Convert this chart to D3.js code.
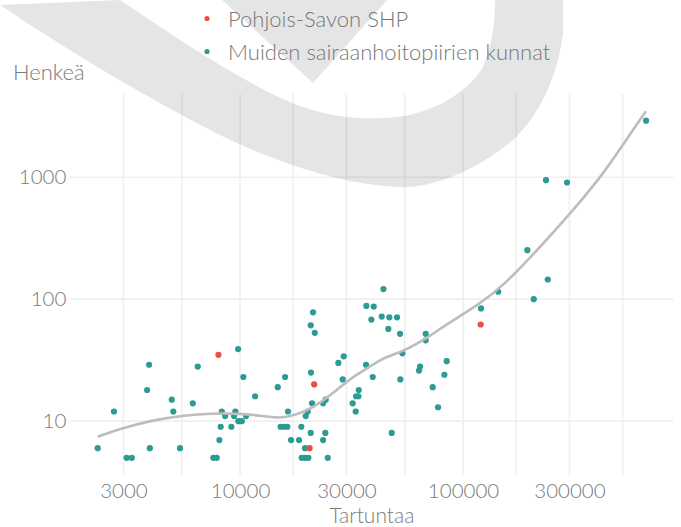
<!DOCTYPE html>
<html>
<head>
<meta charset="utf-8">
<script src="https://d3js.org/d3.v7.min.js"></script>
<style>
  body { margin: 0; background: #fff; }
  svg { display: block; font-family: Lato, "Open Sans", sans-serif; font-weight: 300; }
</style>
</head>
<body>
<svg width="681" height="527"></svg>
<script>
// Pohjois-Savon SHP (tartuntaa, henkeä)
var savoX = [8000, 20500, 21500, 120000];
var savoY = [35, 6, 20, 62];

// Muiden sairaanhoitopiirien kunnat
var muutX = [2300, 2720, 3100, 3270, 3910, 3830, 3940, 4940, 5020, 5380,
             6460, 6140, 9800, 10350, 11680, 8280, 9530, 8570, 9400, 10640,
             9830, 10180, 8190, 9140, 8080, 7590, 7860, 14760, 15920, 16410,
             15200, 15700, 16300, 16930, 18390, 18830, 19560, 18900, 19560, 20250,
             20750, 19700, 20120, 21030, 20800, 20750, 21250, 21630, 23570, 24230,
             24130, 23570, 24740, 27600, 29180, 28870, 36730, 39360, 34070, 33150,
             33940, 32000, 33020, 36850, 39770, 38810, 43200, 43950, 46720, 50580,
             46240, 52170, 68030, 68000, 53460, 52340, 47890, 64170, 63490, 84470,
             82470, 73120, 77260, 120400, 143900, 194200, 239900, 207500, 235600, 292700,
             662000];
var muutY = [6, 12, 5, 5, 29, 18, 6, 15, 12, 6,
             28, 14, 39, 23, 16, 12, 12, 11, 11, 11,
             10, 10, 9, 9, 7, 5, 5, 19, 23, 12,
             9, 9, 9, 7, 7, 9, 6, 5, 5, 5,
             8, 11, 12, 14, 25, 61, 78, 53, 14, 15,
             8, 7, 5, 30, 34, 22, 29, 23, 18, 16,
             16, 14, 12, 88, 87, 68, 72, 121, 71, 71,
             57, 52, 52, 46, 36, 22, 8, 28, 26, 31,
             24, 19, 13, 84, 115, 252, 145, 100, 946, 905,
             2904];

// tasoitettu käyrä (luettu kuvasta)
var smoothX = [2300, 2846, 4019, 5666, 7466, 9826, 12947, 14350, 16470, 19560,
               23250, 27600, 32800, 38960, 44700, 53990, 68710, 84470, 119200, 151600,
               214000, 301800, 425700, 542000, 662000];
var smoothY = [7.45, 8.56, 10.19, 11.19, 11.56, 11.56, 10.98, 10.64, 10.84, 11.91,
               14.38, 18.49, 23.74, 28.6, 33.5, 37.3, 47.8, 62.3, 92, 128.9,
               249, 500, 1060, 2060, 3480];

var xTicks = [3000, 10000, 30000, 100000, 300000];
var yTicks = [10, 100, 1000];
var legendLabels = ["Pohjois-Savon SHP", "Muiden sairaanhoitopiirien kunnat"];
var colors = ["#ee4d45", "#2b9b93"];

var svg = d3.select("svg");

// log-akselit, 5 % laajennus kuten ggplotissa
function expandLog(ext) {
    var a = Math.log10(ext[0]), b = Math.log10(ext[1]), e = (b - a) * 0.05;
    return [Math.pow(10, a - e), Math.pow(10, b + e)];
}
var x = d3.scaleLog()
    .domain(expandLog(d3.extent(savoX.concat(muutX, smoothX))))
    .range([70.3, 673.5]);
var y = d3.scaleLog()
    .domain(expandLog(d3.extent(savoY.concat(muutY, smoothY))))
    .range([475.2, 93.8]);

// ruudukko
var minorX = [];
for (var i = 0; i <= xTicks.length; i++) {
    var lo = i == 0 ? xTicks[0] / (xTicks[1] / xTicks[0]) : xTicks[i - 1];
    var hi = i == xTicks.length ? xTicks[i - 1] * (xTicks[i - 1] / xTicks[i - 2]) : xTicks[i];
    var m = Math.sqrt(lo * hi);
    if (m > x.domain()[0] && m < x.domain()[1]) minorX.push(m);
}
var grid = svg.append("g").attr("stroke", "#efefef").attr("stroke-width", 1.6);
grid.selectAll(".vx")
    .data(xTicks.concat(minorX))
    .enter().append("line")
    .attr("x1", function(d) { return x(d); })
    .attr("x2", function(d) { return x(d); })
    .attr("y1", y.range()[0])
    .attr("y2", y.range()[1]);
grid.selectAll(".hy")
    .data(yTicks)
    .enter().append("line")
    .attr("x1", x.range()[0])
    .attr("x2", x.range()[1])
    .attr("y1", function(d) { return y(d); })
    .attr("y2", function(d) { return y(d); });

// taustan vesileima
var wm = svg.append("g").attr("fill", "#000").attr("fill-opacity", 0.1);
wm.append("path")
  .attr("d", "M0,5 C70,52 150,100 230,140 C280,163 340,184 397,187 C430,189 475,172 513,140 " +
             "C540,115 558,75 563,33 L563,0 L495,0 C495,25 492,45 483,67 C470,90 435,113 397,117 " +
             "C365,120 340,118 313,110 C260,95 180,40 120,0 Z");
wm.append("path").attr("d", "M222,0 L313,83 L387,0 Z");

// akselit
var xAxis = svg.append("g")
    .attr("transform", "translate(0," + y.range()[0] + ")")
    .call(d3.axisBottom(x).tickValues(xTicks).tickFormat(d3.format("d")).tickSize(0).tickPadding(8));
var yAxis = svg.append("g")
    .attr("transform", "translate(" + x.range()[0] + ",0)")
    .call(d3.axisLeft(y).tickValues(yTicks).tickFormat(d3.format("d")).tickSize(0).tickPadding(4));
svg.selectAll(".domain").remove();
svg.selectAll(".tick text")
   .attr("fill", "#7a7a7a")
   .style("font-family", "Lato, sans-serif")
   .style("font-weight", 300)
   .style("font-size", "20.5px");

// pisteet
var pts = svg.append("g");
pts.selectAll(".muut")
   .data(d3.zip(muutX, muutY))
   .enter().append("circle")
   .attr("cx", function(d) { return x(d[0]); })
   .attr("cy", function(d) { return y(d[1]); })
   .attr("r", 3.1)
   .attr("fill", colors[1]);
pts.selectAll(".savo")
   .data(d3.zip(savoX, savoY))
   .enter().append("circle")
   .attr("cx", function(d) { return x(d[0]); })
   .attr("cy", function(d) { return y(d[1]); })
   .attr("r", 3.1)
   .attr("fill", colors[0]);

// tasoitus
var line = d3.line()
    .x(function(d) { return x(d[0]); })
    .y(function(d) { return y(d[1]); })
    .curve(d3.curveBasis);
svg.append("path")
   .datum(d3.zip(smoothX, smoothY))
   .attr("d", line)
   .attr("fill", "none")
   .attr("stroke", "#bdbdbd")
   .attr("stroke-width", 2.6);

// otsikot
svg.append("text")
   .attr("x", 13).attr("y", 79.5)
   .attr("fill", "#7a7a7a")
   .style("font-size", "22px")
   .text("Henkeä");
svg.append("text")
   .attr("x", (x.range()[0] + x.range()[1]) / 2).attr("y", 522.5)
   .attr("text-anchor", "middle")
   .attr("fill", "#7a7a7a")
   .style("font-size", "21px")
   .text("Tartuntaa");

// selite
var leg = svg.append("g");
leg.selectAll("circle")
   .data(legendLabels)
   .enter().append("circle")
   .attr("cx", 207)
   .attr("cy", function(d, i) { return 18.5 + i * 33; })
   .attr("r", 2.6)
   .attr("fill", function(d, i) { return colors[i]; });
leg.selectAll("text")
   .data(legendLabels)
   .enter().append("text")
   .attr("x", 228)
   .attr("y", function(d, i) { return 26.8 + i * 33; })
   .attr("fill", "#777")
   .style("font-size", "22px")
   .text(function(d) { return d; });
</script>
</body>
</html>
